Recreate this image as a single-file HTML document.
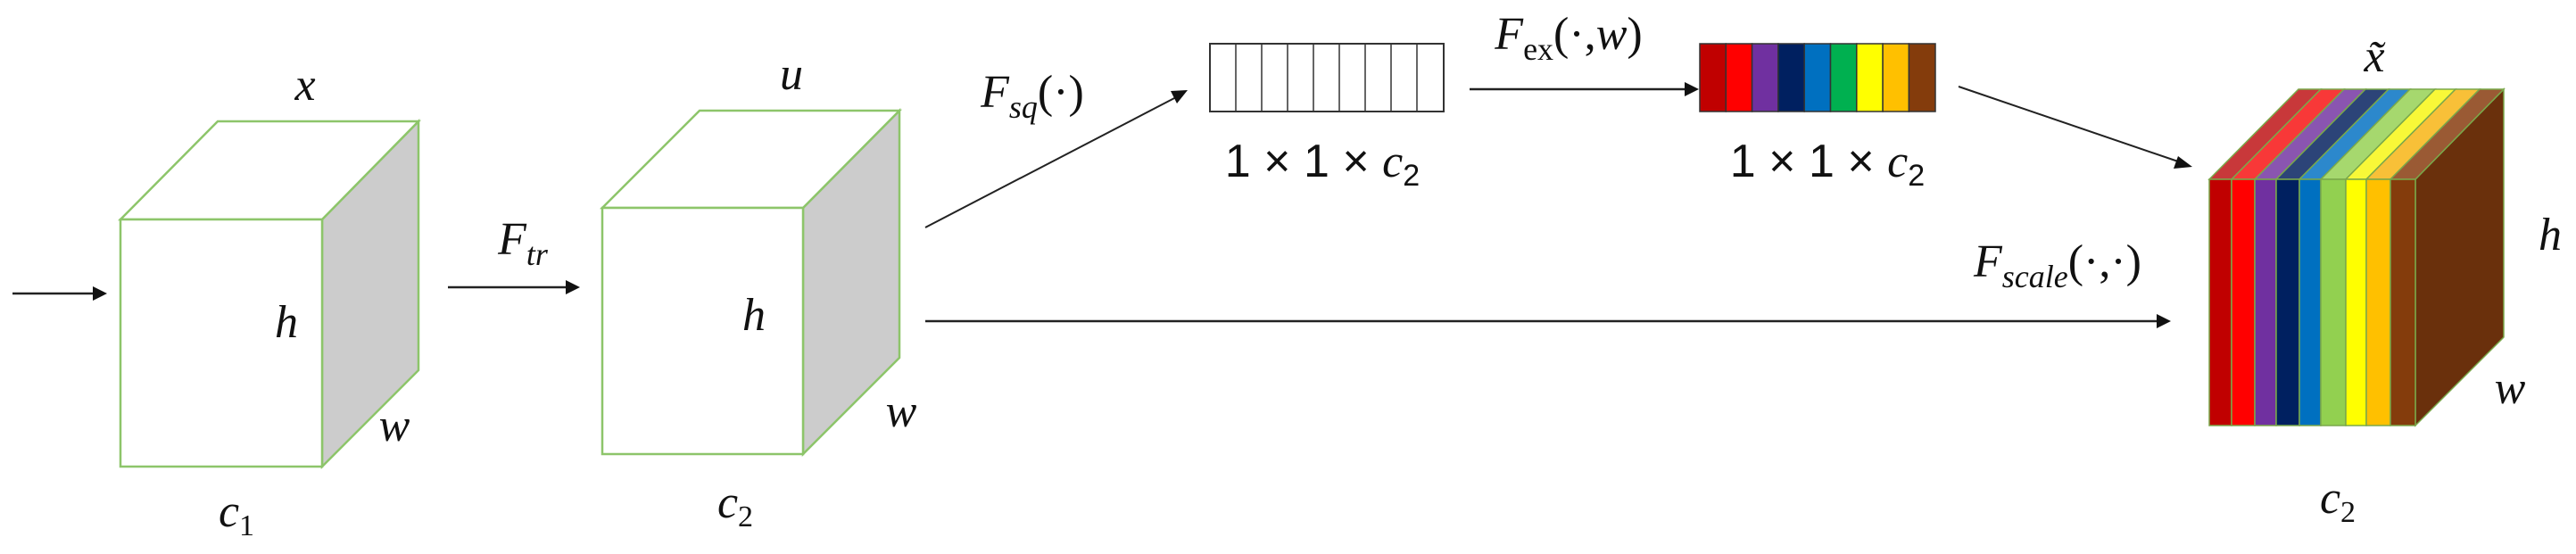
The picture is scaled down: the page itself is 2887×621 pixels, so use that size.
<!DOCTYPE html>
<html><head><meta charset="utf-8"><style>
html,body{margin:0;padding:0;background:#fff;}
svg{display:block;}
text{font-family:"Liberation Serif",serif;font-style:italic;fill:#111;}
.u{font-style:normal;font-family:"Liberation Sans",sans-serif;}
</style></head><body>
<svg width="2887" height="621" viewBox="0 0 2887 621" xmlns="http://www.w3.org/2000/svg">
<defs>
<marker id="a" markerWidth="10" markerHeight="10" refX="9" refY="5" orient="auto" markerUnits="userSpaceOnUse" viewBox="0 0 10 10">
</marker>
</defs>
<g stroke="#8dc56a" stroke-width="2.5">
<!-- cube1 -->
<polygon points="361,246 469,136 469,415 361,523" fill="#cccccc"/>
<polygon points="135,246 244,136 469,136 361,246" fill="#fff"/>
<rect x="135" y="246" width="226" height="277" fill="#fff"/>
<!-- cube2 -->
<polygon points="900,233 1008,124 1008,401 900,509" fill="#cccccc"/>
<polygon points="675,233 784,124 1008,124 900,233" fill="#fff"/>
<rect x="675" y="233" width="225" height="276" fill="#fff"/>
</g>
<!-- arrows -->
<g stroke="#222" stroke-width="2.5" fill="#111">
<line x1="14" y1="329" x2="106" y2="329"/><polygon points="120,329 104,321 104,337" stroke="none"/>
<line x1="502" y1="322" x2="636" y2="322"/><polygon points="650,322 634,314 634,330" stroke="none"/>
<line x1="1037" y1="255" x2="1320" y2="108" stroke-width="2"/><polygon points="1331,101 1312,102 1319,116" stroke="none"/>
<line x1="1647" y1="100" x2="1890" y2="100"/><polygon points="1904,100 1888,92 1888,108" stroke="none"/>
<line x1="2195" y1="97" x2="2444" y2="182" stroke-width="2"/><polygon points="2457,187 2441,175 2436,189" stroke="none"/>
<line x1="1037" y1="360" x2="2418" y2="360"/><polygon points="2433,360 2417,352 2417,368" stroke="none"/>
</g>
<!-- white bar -->
<g stroke="#333" stroke-width="2" fill="#fff">
<rect x="1356" y="49" width="262" height="76"/>
<path d="M1385,49V125M1414,49V125M1443,49V125M1472,49V125M1501,49V125M1530,49V125M1559,49V125M1588,49V125" fill="none" stroke-width="1.5"/>
</g>
<!-- color bar -->
<g stroke="#333" stroke-width="1.5">
<rect x="1905" y="49" width="29.3" height="76" fill="#C00000"/>
<rect x="1934.3" y="49" width="29.3" height="76" fill="#FF0000"/>
<rect x="1963.6" y="49" width="29.3" height="76" fill="#7030A0"/>
<rect x="1992.9" y="49" width="29.3" height="76" fill="#002060"/>
<rect x="2022.2" y="49" width="29.3" height="76" fill="#0070C0"/>
<rect x="2051.5" y="49" width="29.3" height="76" fill="#00B050"/>
<rect x="2080.8" y="49" width="29.3" height="76" fill="#FFFF00"/>
<rect x="2110.1" y="49" width="29.3" height="76" fill="#FFC000"/>
<rect x="2139.4" y="49" width="29.6" height="76" fill="#843C0C"/>
</g>
<!-- cube3 -->
<g stroke="#7aa84a" stroke-width="1.5">
<polygon points="2707,201 2806,100 2806,378 2707,477" fill="#6A300C"/>
<polygon points="2476,201 2576,100 2601,100 2501,201" fill="#C8383A"/>
<polygon points="2501,201 2601,100 2627,100 2527,201" fill="#F83838"/>
<polygon points="2527,201 2627,100 2651,100 2551,201" fill="#8A55B0"/>
<polygon points="2551,201 2651,100 2677,100 2577,201" fill="#2C4478"/>
<polygon points="2577,201 2677,100 2701,100 2601,201" fill="#2C88CC"/>
<polygon points="2601,201 2701,100 2729,100 2629,201" fill="#A6D86E"/>
<polygon points="2629,201 2729,100 2752,100 2652,201" fill="#F8F838"/>
<polygon points="2652,201 2752,100 2779,100 2679,201" fill="#F8C038"/>
<polygon points="2679,201 2779,100 2806,100 2707,201" fill="#9A5A34"/>
<rect x="2476" y="201" width="25" height="276" fill="#C00000"/>
<rect x="2501" y="201" width="26" height="276" fill="#FF0000"/>
<rect x="2527" y="201" width="24" height="276" fill="#7030A0"/>
<rect x="2551" y="201" width="26" height="276" fill="#002060"/>
<rect x="2577" y="201" width="24" height="276" fill="#0070C0"/>
<rect x="2601" y="201" width="28" height="276" fill="#92D050"/>
<rect x="2629" y="201" width="23" height="276" fill="#FFFF00"/>
<rect x="2652" y="201" width="27" height="276" fill="#FFC000"/>
<rect x="2679" y="201" width="28" height="276" fill="#843C0C"/>
</g>
<!-- labels -->
<g font-size="52" text-anchor="middle">
<text x="342" y="112">x</text>
<text x="321" y="378">h</text>
<text x="442" y="494">w</text>
<text x="265" y="590">c<tspan font-size="34" dy="10" font-style="normal">1</tspan></text>
<text x="586" y="285">F<tspan font-size="36" dy="12">tr</tspan></text>
<text x="887" y="100">u</text>
<text x="845" y="370">h</text>
<text x="1010" y="478">w</text>
<text x="824" y="580">c<tspan font-size="34" dy="10" font-style="normal">2</tspan></text>
<text x="1157" y="120">F<tspan font-size="36" dy="12">sq</tspan><tspan dy="-12" font-style="normal">(·)</tspan></text>
<text x="1758" y="55">F<tspan font-size="36" dy="12" font-style="normal">ex</tspan><tspan dy="-12" font-style="normal">(·,</tspan>w<tspan font-style="normal">)</tspan></text>
<text x="1482" y="198" class="u" font-style="normal" font-family="Liberation Sans">1 × 1 × <tspan font-family="Liberation Serif" font-style="italic">c</tspan><tspan font-size="34" dy="10">2</tspan></text>
<text x="2048" y="198" class="u" font-style="normal" font-family="Liberation Sans">1 × 1 × <tspan font-family="Liberation Serif" font-style="italic">c</tspan><tspan font-size="34" dy="10">2</tspan></text>
<text x="2306" y="310">F<tspan font-size="36" dy="12">scale</tspan><tspan dy="-12" font-style="normal">(·,·)</tspan></text>
<text x="2661" y="80">x̃</text>
<text x="2858" y="280">h</text>
<text x="2813" y="452">w</text>
<text x="2620" y="575">c<tspan font-size="34" dy="10" font-style="normal">2</tspan></text>
</g>
</svg>
</body></html>
